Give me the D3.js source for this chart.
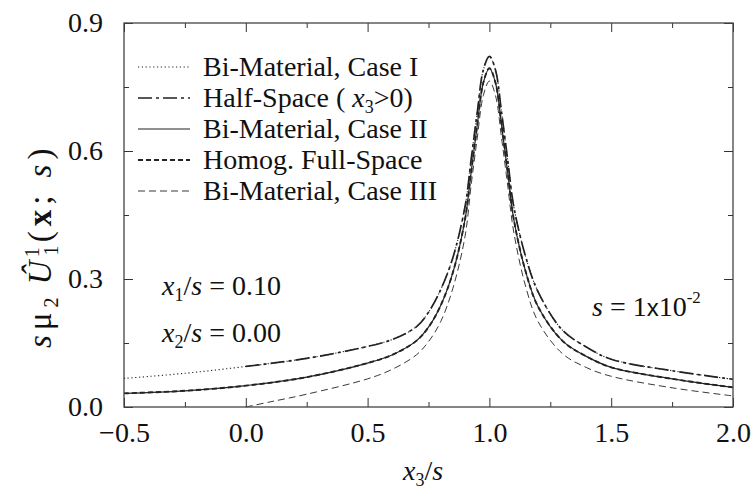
<!DOCTYPE html>
<html>
<head>
<meta charset="utf-8">
<script src="https://cdn.jsdelivr.net/npm/d3@7"></script>
<style>
  body { margin: 0; background: #fff; }
  svg text { font-family: "Liberation Serif", "Times New Roman", Times, serif; }
</style>
</head>
<body>
<svg id="chart"></svg>
<script>
// Tick values
const xTicks = [-0.5, 0.0, 0.5, 1.0, 1.5, 2.0];
const xMinor = [-0.25, 0.25, 0.75, 1.25, 1.75];
const yTicks = [0.0, 0.3, 0.6, 0.9];
const yMinor = [0.15, 0.45, 0.75];

// x3/s positions (shared by the curves)
const xFull = [-0.5, -0.25, 0.0, 0.25, 0.5, 0.6, 0.7, 0.75, 0.8, 0.85, 0.9, 0.925, 0.95, 0.975, 1.0,
  1.025, 1.05, 1.075, 1.1, 1.15, 1.2, 1.3, 1.4, 1.5, 1.75, 2.0];
const xHalf = [0.0, 0.25, 0.5, 0.6, 0.7, 0.75, 0.8, 0.85, 0.9, 0.925, 0.95, 0.975, 1.0,
  1.025, 1.05, 1.075, 1.1, 1.15, 1.2, 1.3, 1.4, 1.5, 1.75, 2.0];
const xCase3 = [0.0, 0.1, 0.25, 0.5, 0.6, 0.7, 0.75, 0.8, 0.85, 0.9, 0.925, 0.95, 0.975, 1.0,
  1.025, 1.05, 1.075, 1.1, 1.15, 1.2, 1.3, 1.4, 1.5, 1.75, 2.0];

// values
const caseI = [0.067, 0.079, 0.095, 0.114, 0.142, 0.158, 0.188, 0.222, 0.275, 0.35, 0.47, 0.58, 0.69, 0.79, 0.822,
  0.79, 0.69, 0.58, 0.47, 0.35, 0.27, 0.18, 0.14, 0.112, 0.085, 0.065];
const halfSpace = [0.095, 0.114, 0.142, 0.158, 0.188, 0.222, 0.275, 0.35, 0.47, 0.58, 0.69, 0.79, 0.822,
  0.79, 0.69, 0.58, 0.47, 0.35, 0.27, 0.18, 0.14, 0.112, 0.085, 0.065];
const caseII = [0.032, 0.038, 0.05, 0.07, 0.103, 0.122, 0.155, 0.187, 0.238, 0.315, 0.44, 0.55, 0.66, 0.76, 0.794,
  0.76, 0.66, 0.55, 0.44, 0.315, 0.235, 0.155, 0.118, 0.093, 0.066, 0.046];
const fullSpace = [0.032, 0.038, 0.05, 0.07, 0.103, 0.122, 0.155, 0.187, 0.238, 0.315, 0.44, 0.55, 0.66, 0.76, 0.794,
  0.76, 0.66, 0.55, 0.44, 0.315, 0.235, 0.155, 0.118, 0.093, 0.066, 0.046];
const caseIII = [0.0, 0.012, 0.03, 0.066, 0.088, 0.122, 0.153, 0.2, 0.278, 0.40, 0.52, 0.63, 0.73, 0.764,
  0.73, 0.63, 0.52, 0.41, 0.28, 0.2, 0.125, 0.092, 0.072, 0.045, 0.026];

const legendLabels = ["Bi-Material, Case I", "Half-Space", "Bi-Material, Case II", "Homog. Full-Space", "Bi-Material, Case III"];

const width = 752, height = 492;
const margin = { top: 23, right: 19, bottom: 85, left: 124 };
const serif = "'Liberation Serif', 'Times New Roman', Times, serif";
const svg = d3.select("#chart").attr("width", width).attr("height", height)
  .attr("font-family", serif);

const x = d3.scaleLinear().domain([-0.5, 2.0]).range([margin.left, width - margin.right]);
const y = d3.scaleLinear().domain([0, 0.9]).range([height - margin.bottom, margin.top]);

const stroke = "#222";

// series styles
const series = [
  { xs: xFull, ys: caseI, dash: "1.2,2.6", w: 1.1 },
  { xs: xHalf, ys: halfSpace, dash: "14,4,3,4", w: 1.7 },
  { xs: xFull, ys: caseII, dash: null, w: 1.2 },
  { xs: xFull, ys: fullSpace, dash: "5,3", w: 1.9 },
  { xs: xCase3, ys: caseIII, dash: "7,4", w: 0.9 }
];

const line = d3.line()
  .x(d => x(d[0]))
  .y(d => y(d[1]))
  .curve(d3.curveCatmullRom.alpha(0.5));

svg.append("g")
  .selectAll("path")
  .data(series)
  .enter()
  .append("path")
  .attr("d", s => line(s.xs.map((v, i) => [v, s.ys[i]])))
  .attr("fill", "none")
  .attr("stroke", stroke)
  .attr("stroke-width", s => s.w)
  .attr("stroke-dasharray", s => s.dash);

// axes with inward ticks
const fontSize = 28;
function styleAxis(g) {
  g.attr("font-family", serif);
  g.select(".domain").remove();
  g.selectAll("line").attr("stroke", "#333").attr("stroke-width", 1);
  g.selectAll("text").attr("font-size", fontSize).attr("fill", "#111");
}

svg.append("g")
  .attr("transform", `translate(0,${y(0)})`)
  .call(d3.axisBottom(x).tickValues(xTicks).tickSize(-9).tickPadding(15).tickFormat(d3.format(".1f")))
  .call(styleAxis);
svg.append("g")
  .attr("transform", `translate(0,${y(0)})`)
  .call(d3.axisBottom(x).tickValues(xMinor).tickSize(-5).tickFormat(""))
  .call(styleAxis);
svg.append("g")
  .attr("transform", `translate(0,${y(0.9)})`)
  .call(d3.axisTop(x).tickValues(xTicks).tickSize(-9).tickFormat(""))
  .call(styleAxis);
svg.append("g")
  .attr("transform", `translate(0,${y(0.9)})`)
  .call(d3.axisTop(x).tickValues(xMinor).tickSize(-5).tickFormat(""))
  .call(styleAxis);

svg.append("g")
  .attr("transform", `translate(${x(-0.5)},0)`)
  .call(d3.axisLeft(y).tickValues(yTicks).tickSize(-9).tickPadding(21).tickFormat(d3.format(".1f")))
  .call(styleAxis);
svg.append("g")
  .attr("transform", `translate(${x(-0.5)},0)`)
  .call(d3.axisLeft(y).tickValues(yMinor).tickSize(-5).tickFormat(""))
  .call(styleAxis);
svg.append("g")
  .attr("transform", `translate(${x(2.0)},0)`)
  .call(d3.axisRight(y).tickValues(yTicks).tickSize(-9).tickFormat(""))
  .call(styleAxis);
svg.append("g")
  .attr("transform", `translate(${x(2.0)},0)`)
  .call(d3.axisRight(y).tickValues(yMinor).tickSize(-5).tickFormat(""))
  .call(styleAxis);

// frame
svg.append("rect")
  .attr("x", x(-0.5)).attr("y", y(0.9))
  .attr("width", x(2.0) - x(-0.5)).attr("height", y(0) - y(0.9))
  .attr("fill", "none").attr("stroke", "#444").attr("stroke-width", 1.3);

// legend
const legend = svg.append("g").attr("transform", "translate(138, 67)");
const rowH = 31;
legend.selectAll("line")
  .data(series)
  .enter()
  .append("line")
  .attr("x1", 0).attr("x2", 52)
  .attr("y1", (d, i) => i * rowH).attr("y2", (d, i) => i * rowH)
  .attr("stroke", stroke)
  .attr("stroke-width", d => d.w)
  .attr("stroke-dasharray", d => d.dash);

const legendText = legend.selectAll("text")
  .data(legendLabels)
  .enter()
  .append("text")
  .attr("x", 65)
  .attr("y", (d, i) => i * rowH + 9)
  .attr("font-size", fontSize)
  .attr("fill", "#111")
  .text(d => d);

// "Half-Space ( x3>0)"
legendText.filter((d, i) => i === 1).each(function () {
  const t = d3.select(this);
  t.append("tspan").text(" ( ");
  t.append("tspan").attr("font-style", "italic").text("x");
  t.append("tspan").attr("font-size", 18).attr("dy", 6).text("3");
  t.append("tspan").attr("dy", -6).text(">0)");
});

// annotation helper: italic var with subscript
function ratioLabel(xp, yp, sub, value) {
  const t = svg.append("text").attr("x", xp).attr("y", yp).attr("font-size", fontSize).attr("fill", "#111");
  t.append("tspan").attr("font-style", "italic").text("x");
  t.append("tspan").attr("font-size", 18).attr("dy", 6).text(sub);
  t.append("tspan").attr("dy", -6).text("/");
  t.append("tspan").attr("font-style", "italic").text("s");
  t.append("tspan").text(" = " + value);
}
ratioLabel(162, 295, "1", "0.10");
ratioLabel(162, 342, "2", "0.00");

const sLabel = svg.append("text").attr("x", 592).attr("y", 316).attr("font-size", fontSize).attr("fill", "#111");
sLabel.append("tspan").attr("font-style", "italic").text("s");
sLabel.append("tspan").text(" = 1");
sLabel.append("tspan").attr("font-family", "'Liberation Sans', Arial, sans-serif").attr("font-size", 24).text("x");
sLabel.append("tspan").text("10");
sLabel.append("tspan").attr("font-size", 17).attr("dy", -13).text("-2");

// x axis title
const xTitle = svg.append("text").attr("x", 403).attr("y", 480).attr("font-size", fontSize).attr("fill", "#111");
xTitle.append("tspan").attr("font-style", "italic").text("x");
xTitle.append("tspan").attr("font-size", 18).attr("dy", 6).text("3");
xTitle.append("tspan").attr("dy", -6).text("/");
xTitle.append("tspan").attr("font-style", "italic").text("s");

// y axis title
const yTitle = svg.append("text")
  .attr("transform", "translate(51, 348) rotate(-90)")
  .attr("font-size", 33).attr("fill", "#111").attr("letter-spacing", 5);
yTitle.append("tspan").attr("font-style", "italic").text("s");
yTitle.append("tspan").text("\u03bc");
yTitle.append("tspan").attr("font-size", 20).attr("dy", 7).text("2");
yTitle.append("tspan").attr("dy", -7).attr("dx", 8).attr("font-style", "italic").text("\u00db");
yTitle.append("tspan").attr("font-size", 20).attr("dy", 7).text("1");
yTitle.append("tspan").attr("font-size", 20).attr("dy", -19).attr("dx", -16).text("1");
yTitle.append("tspan").attr("dy", 12).text("(");
yTitle.append("tspan").attr("font-weight", "bold").text("x");
yTitle.append("tspan").text("; ");
yTitle.append("tspan").attr("font-style", "italic").text("s");
yTitle.append("tspan").text(")");
</script>
</body>
</html>
